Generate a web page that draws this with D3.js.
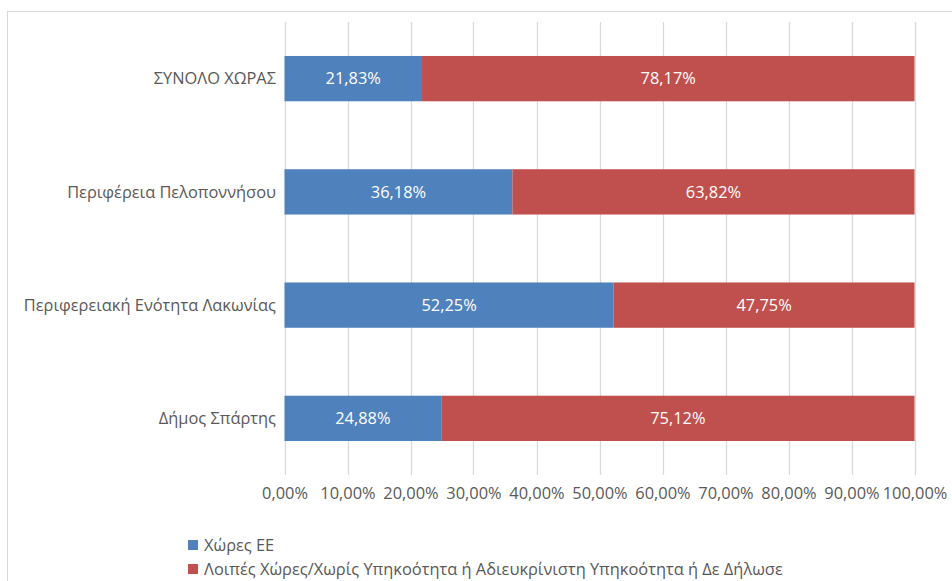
<!DOCTYPE html>
<html>
<head>
<meta charset="utf-8">
<script src="https://cdn.jsdelivr.net/npm/d3@7"></script>
<style>
  body { margin: 0; background: #fff; }
  svg { font-family: "Open Sans", "Noto Sans", sans-serif; }
</style>
</head>
<body>
<svg id="chart" width="952" height="581"></svg>
<script>
// data
var categories = ["ΣΥΝΟΛΟ ΧΩΡΑΣ", "Περιφέρεια Πελοποννήσου", "Περιφερειακή Ενότητα Λακωνίας", "Δήμος Σπάρτης"];
var euValues = [21.83, 36.18, 52.25, 24.88];
var otherValues = [78.17, 63.82, 47.75, 75.12];
var seriesNames = ["Χώρες ΕΕ", "Λοιπές Χώρες/Χωρίς Υπηκοότητα ή Αδιευκρίνιστη Υπηκοότητα ή Δε Δήλωσε"];
var seriesColors = ["#4F81BD", "#C0504D"];
var tickValues = [0, 10, 20, 30, 40, 50, 60, 70, 80, 90, 100];

var svg = d3.select("#chart");
var plotLeft = 284.5, plotRight = 914.5, plotTop = 22, plotBottom = 475;
var fontSize = "16.4px";

//outer chart border (only top and left visible)
svg.append("rect")
    .attr("x", 7.5).attr("y", 11.5)
    .attr("width", 1000).attr("height", 1000)
    .attr("fill", "none").attr("stroke", "#d9d9d9");

var x = d3.scaleLinear().domain([0, 100]).range([plotLeft, plotRight]);
var y = d3.scaleBand().domain(categories).range([plotTop, plotBottom]).paddingInner(0.6).paddingOuter(0.3);

var fmt = function(v){ return v.toFixed(2).replace(".", ",") + "%"; };

//grid lines
svg.append("g").selectAll("line")
    .data(tickValues)
    .join("line")
    .attr("x1", function(d){ return Math.round(x(d)) + 0.5; })
    .attr("x2", function(d){ return Math.round(x(d)) + 0.5; })
    .attr("y1", plotTop).attr("y2", plotBottom)
    .attr("stroke", "#d9d9d9").attr("stroke-width", 1.3);

//bars
var stackData = categories.map(function(c, i){
    return {cat: c, parts: [[0, euValues[i]], [euValues[i], euValues[i] + otherValues[i]]]};
});

stackData.forEach(function(row){
    row.parts.forEach(function(p, s){
        svg.append("rect")
            .attr("x", x(p[0]))
            .attr("y", y(row.cat))
            .attr("width", x(p[1]) - x(p[0]))
            .attr("height", y.bandwidth())
            .attr("fill", seriesColors[s]);

        svg.append("text")
            .attr("x", (x(p[0]) + x(p[1])) / 2)
            .attr("y", y(row.cat) + y.bandwidth() / 2)
            .attr("dy", "0.35em")
            .attr("text-anchor", "middle")
            .attr("fill", "#fff")
            .style("font-size", fontSize)
            .text(fmt(p[1] - p[0]));
    });
});

//category labels
svg.append("g").selectAll("text")
    .data(categories)
    .join("text")
    .attr("x", 276)
    .attr("y", function(d){ return y(d) + y.bandwidth() / 2; })
    .attr("dy", "0.35em")
    .attr("text-anchor", "end")
    .attr("fill", "#595959")
    .style("font-size", fontSize)
    .text(function(d){ return d; });

//x axis tick labels
var axis = svg.append("g")
    .attr("transform", "translate(0," + plotBottom + ")")
    .call(d3.axisBottom(x).tickValues(tickValues).tickSize(0).tickPadding(12).tickFormat(fmt));
axis.select(".domain").remove();
axis.selectAll("text")
    .attr("fill", "#595959")
    .style("font-size", fontSize)
    .style("font-family", "\"Open Sans\", \"Noto Sans\", sans-serif");

//legend
var legend = svg.append("g").selectAll("g")
    .data(seriesNames)
    .join("g")
    .attr("transform", function(d, i){ return "translate(188," + (545 + i * 24) + ")"; });
legend.append("rect")
    .attr("x", 0).attr("y", -5)
    .attr("width", 10).attr("height", 10)
    .attr("fill", function(d, i){ return seriesColors[i]; });
legend.append("text")
    .attr("x", 16).attr("dy", "0.35em")
    .attr("fill", "#595959")
    .style("font-size", fontSize)
    .text(function(d){ return d; });
</script>
</body>
</html>
